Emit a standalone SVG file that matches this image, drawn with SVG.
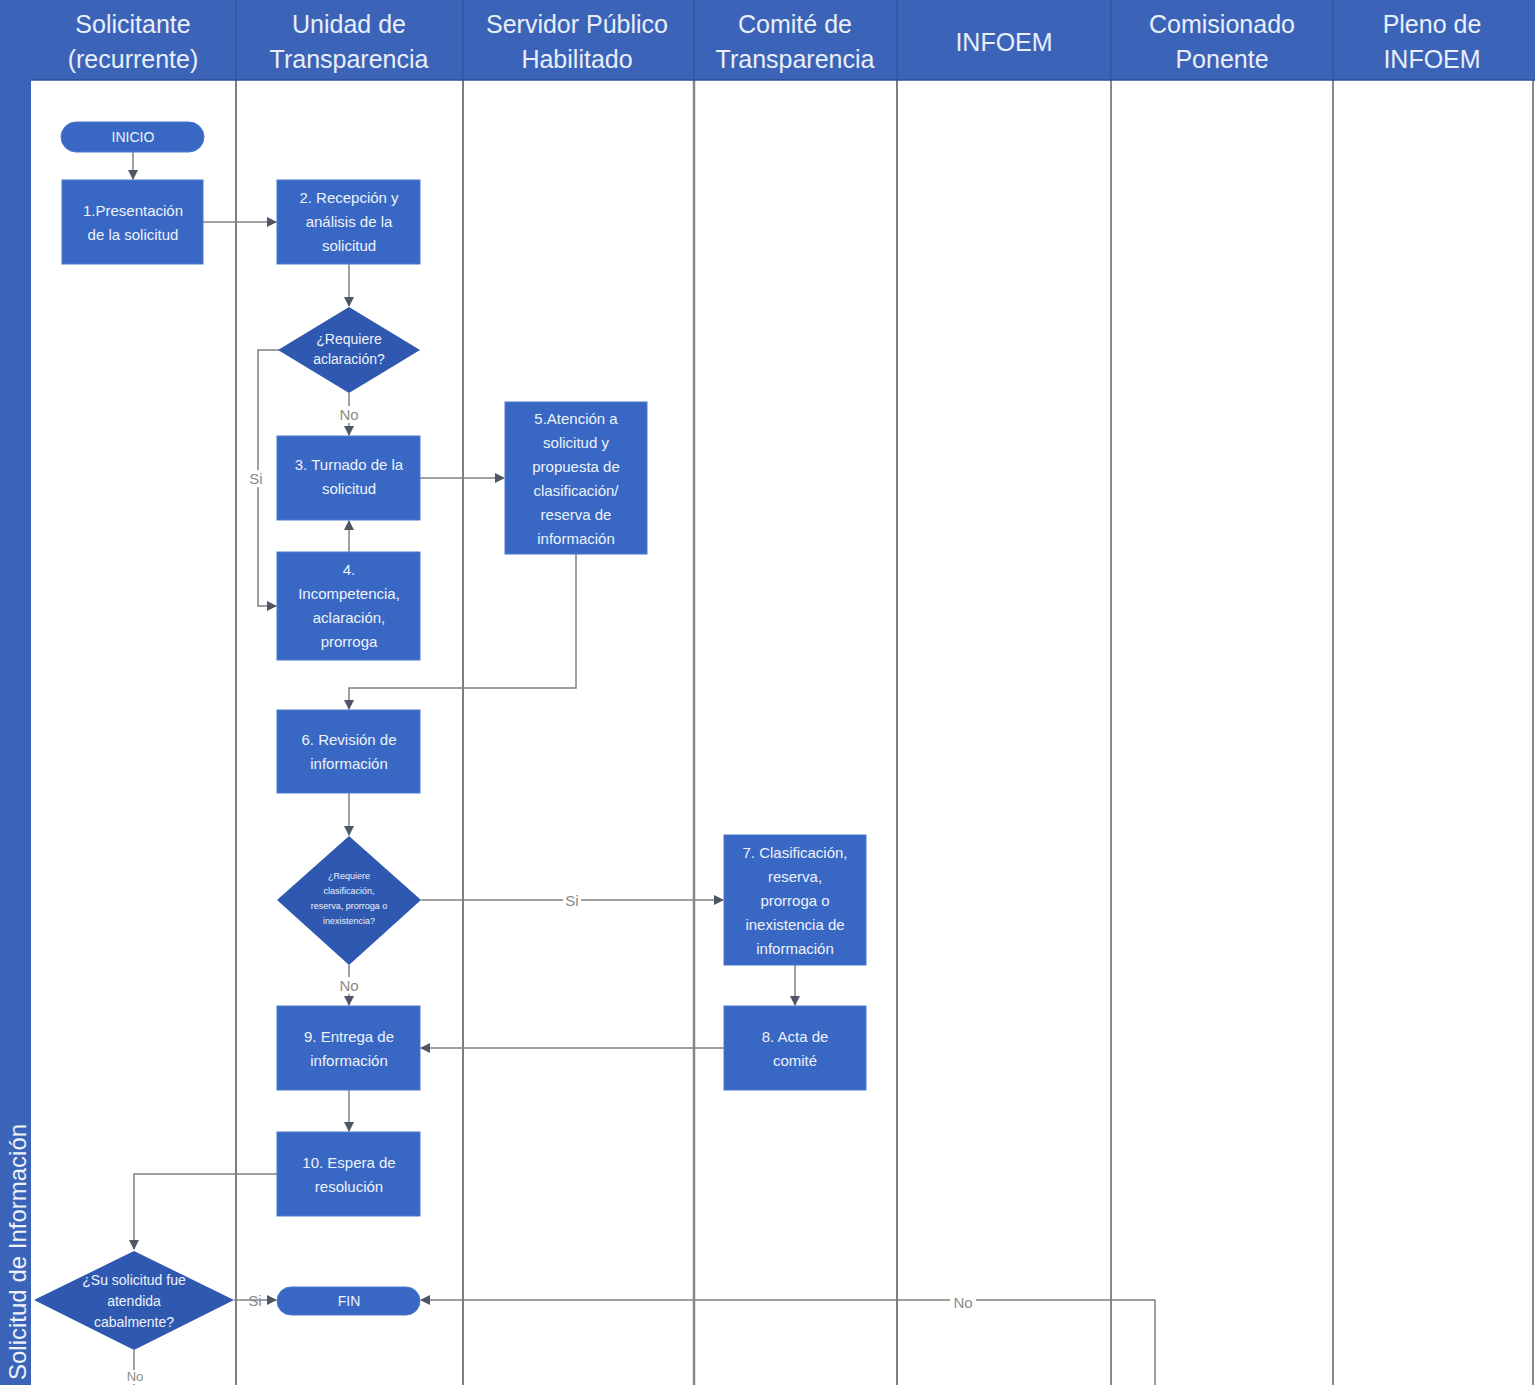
<svg xmlns="http://www.w3.org/2000/svg" width="1535" height="1385" viewBox="0 0 1535 1385">
<style>
.hdr{fill:#3b64b8}
.hl{font-family:"Liberation Sans",Arial,sans-serif;font-size:25px;fill:#e9eef8;text-anchor:middle}
.box{fill:#3868c4;stroke:#4a78cc;stroke-width:1}
.dia{fill:#2f58b0}
.nt{font-family:"Liberation Sans",Arial,sans-serif;font-size:15px;fill:#eef2fa;text-anchor:middle}
.st{font-family:"Liberation Sans",Arial,sans-serif;font-size:9px;fill:#eef2fa;text-anchor:middle}
.lane{stroke:#555;stroke-width:1.5}
.lane2{stroke:#888;stroke-width:2.5}
.c{fill:none;stroke:#808080;stroke-width:1.5}
.lb{font-family:"Liberation Sans",Arial,sans-serif;font-size:15px;fill:#8a8a8a;text-anchor:middle}
</style>
<defs>
<marker id="ar" viewBox="0 0 10 10" refX="9" refY="5" markerWidth="10" markerHeight="10" orient="auto" markerUnits="userSpaceOnUse">
<path d="M0,0 L10,5 L0,10 z" fill="#4f5666"/>
</marker>
</defs>
<rect x="0" y="0" width="1535" height="1385" fill="#ffffff"/>
<g id="pool">
<rect class="hdr" x="0" y="0" width="1535" height="80"/>
<rect class="hdr" x="0" y="0" width="31" height="1385"/>
<text font-family="Liberation Sans,Arial,sans-serif" font-size="24" fill="#eef2fa" transform="translate(26,1380) rotate(-90)">Solicitud de Información</text>
</g>
<g id="lanes">
<line class="lane" x1="236" y1="80" x2="236" y2="1385"/>
<line class="lane" x1="463" y1="80" x2="463" y2="1385" stroke="#222"/>
<line class="lane2" x1="694" y1="80" x2="694" y2="1385"/>
<line class="lane" x1="897" y1="80" x2="897" y2="1385"/>
<line class="lane2" x1="1111" y1="80" x2="1111" y2="1385" style="stroke-width:2"/>
<line class="lane2" x1="1333" y1="80" x2="1333" y2="1385" style="stroke-width:2"/>
<line class="lane2" x1="1533" y1="80" x2="1533" y2="1385" style="stroke-width:2"/>
<line x1="236" y1="0" x2="236" y2="80" stroke="#2d4f96" stroke-width="1"/>
<line x1="463" y1="0" x2="463" y2="80" stroke="#2d4f96" stroke-width="1"/>
<line x1="694" y1="0" x2="694" y2="80" stroke="#2d4f96" stroke-width="1"/>
<line x1="897" y1="0" x2="897" y2="80" stroke="#2d4f96" stroke-width="1"/>
<line x1="1111" y1="0" x2="1111" y2="80" stroke="#2d4f96" stroke-width="1"/>
<line x1="1333" y1="0" x2="1333" y2="80" stroke="#2d4f96" stroke-width="1"/>
<line x1="31" y1="80" x2="1535" y2="80" stroke="#2d4f96" stroke-width="1.5"/>
<text class="hl" x="133" y="33">Solicitante</text>
<text class="hl" x="133" y="68">(recurrente)</text>
<text class="hl" x="349" y="33">Unidad de</text>
<text class="hl" x="349" y="68">Transparencia</text>
<text class="hl" x="577" y="33">Servidor Público</text>
<text class="hl" x="577" y="68">Habilitado</text>
<text class="hl" x="795" y="33">Comité de</text>
<text class="hl" x="795" y="68">Transparencia</text>
<text class="hl" x="1004" y="51">INFOEM</text>
<text class="hl" x="1222" y="33">Comisionado</text>
<text class="hl" x="1222" y="68">Ponente</text>
<text class="hl" x="1432" y="33">Pleno de</text>
<text class="hl" x="1432" y="68">INFOEM</text>
</g>
<g id="connectors">
<line class="c" x1="133" y1="152" x2="133" y2="179" marker-end="url(#ar)"/>
<line class="c" x1="203" y1="222" x2="276" y2="222" marker-end="url(#ar)"/>
<line class="c" x1="349" y1="264" x2="349" y2="306" marker-end="url(#ar)"/>
<line class="c" x1="349" y1="393" x2="349" y2="435" marker-end="url(#ar)"/>
<polyline class="c" points="280,350 258,350 258,606 276,606" marker-end="url(#ar)"/>
<line class="c" x1="349" y1="552" x2="349" y2="521" marker-end="url(#ar)"/>
<line class="c" x1="420" y1="478" x2="504" y2="478" marker-end="url(#ar)"/>
<polyline class="c" points="576,554 576,688 349,688 349,709" marker-end="url(#ar)"/>
<line class="c" x1="349" y1="793" x2="349" y2="835" marker-end="url(#ar)"/>
<line class="c" x1="421" y1="900" x2="723" y2="900" marker-end="url(#ar)"/>
<line class="c" x1="349" y1="965" x2="349" y2="1005" marker-end="url(#ar)"/>
<line class="c" x1="795" y1="965" x2="795" y2="1005" marker-end="url(#ar)"/>
<line class="c" x1="724" y1="1048" x2="421" y2="1048" marker-end="url(#ar)"/>
<line class="c" x1="349" y1="1090" x2="349" y2="1131" marker-end="url(#ar)"/>
<polyline class="c" points="277,1174 134,1174 134,1249" marker-end="url(#ar)"/>
<line class="c" x1="234" y1="1300" x2="276" y2="1300" marker-end="url(#ar)"/>
<polyline class="c" points="1155,1385 1155,1300 421,1300" marker-end="url(#ar)"/>
<line class="c" x1="134" y1="1350" x2="134" y2="1385"/>
<rect x="338" y="406" width="22" height="17" fill="#fff"/>
<text class="lb" x="349" y="420">No</text>
<rect x="248" y="470" width="16" height="17" fill="#fff"/>
<text class="lb" x="256" y="484">Si</text>
<rect x="563" y="892" width="18" height="17" fill="#fff"/>
<text class="lb" x="572" y="906">Si</text>
<rect x="338" y="977" width="22" height="17" fill="#fff"/>
<text class="lb" x="349" y="991">No</text>
<text class="lb" x="255" y="1306">Si</text>
<rect x="950" y="1294" width="26" height="16" fill="#fff"/>
<text class="lb" x="963" y="1308">No</text>
<rect x="124" y="1370" width="22" height="14" fill="#fff"/>
<text class="lb" x="135" y="1381" style="font-size:13px">No</text>
</g>
<g id="n-inicio">
<rect class="box" x="61" y="122" width="143" height="30" rx="15"/>
<text class="nt" x="133" y="142" style="font-size:14px">INICIO</text>
</g>
<g id="n1">
<rect class="box" x="62" y="180" width="141" height="84"/>
<text class="nt" x="133" y="216">1.Presentación</text>
<text class="nt" x="133" y="240">de la solicitud</text>
</g>
<g id="n2">
<rect class="box" x="277" y="180" width="143" height="84"/>
<text class="nt" x="349" y="203">2. Recepción y</text>
<text class="nt" x="349" y="227">análisis de la</text>
<text class="nt" x="349" y="251">solicitud</text>
</g>
<g id="d1">
<polygon class="dia" points="349,307 420,350 349,393 278,350"/>
<text class="nt" x="349" y="344" style="font-size:14px">¿Requiere</text>
<text class="nt" x="349" y="364" style="font-size:14px">aclaración?</text>
</g>
<g id="n3">
<rect class="box" x="277" y="436" width="143" height="84"/>
<text class="nt" x="349" y="470">3. Turnado de la</text>
<text class="nt" x="349" y="494">solicitud</text>
</g>
<g id="n4">
<rect class="box" x="277" y="552" width="143" height="108"/>
<text class="nt" x="349" y="575">4.</text>
<text class="nt" x="349" y="599">Incompetencia,</text>
<text class="nt" x="349" y="623">aclaración,</text>
<text class="nt" x="349" y="647">prorroga</text>
</g>
<g id="n5">
<rect class="box" x="505" y="402" width="142" height="152"/>
<text class="nt" x="576" y="424">5.Atención a</text>
<text class="nt" x="576" y="448">solicitud y</text>
<text class="nt" x="576" y="472">propuesta de</text>
<text class="nt" x="576" y="496">clasificación/</text>
<text class="nt" x="576" y="520">reserva de</text>
<text class="nt" x="576" y="544">información</text>
</g>
<g id="n6">
<rect class="box" x="277" y="710" width="143" height="83"/>
<text class="nt" x="349" y="745">6. Revisión de</text>
<text class="nt" x="349" y="769">información</text>
</g>
<g id="d2">
<polygon class="dia" points="349,836 421,900 349,965 277,900"/>
<text class="st" x="349" y="879">¿Requiere</text>
<text class="st" x="349" y="894">clasificación,</text>
<text class="st" x="349" y="909">reserva, prorroga o</text>
<text class="st" x="349" y="924">inexistencia?</text>
</g>
<g id="n7">
<rect class="box" x="724" y="835" width="142" height="130"/>
<text class="nt" x="795" y="858">7. Clasificación,</text>
<text class="nt" x="795" y="882">reserva,</text>
<text class="nt" x="795" y="906">prorroga o</text>
<text class="nt" x="795" y="930">inexistencia de</text>
<text class="nt" x="795" y="954">información</text>
</g>
<g id="n8">
<rect class="box" x="724" y="1006" width="142" height="84"/>
<text class="nt" x="795" y="1042">8. Acta de</text>
<text class="nt" x="795" y="1066">comité</text>
</g>
<g id="n9">
<rect class="box" x="277" y="1006" width="143" height="84"/>
<text class="nt" x="349" y="1042">9. Entrega de</text>
<text class="nt" x="349" y="1066">información</text>
</g>
<g id="n10">
<rect class="box" x="277" y="1132" width="143" height="84"/>
<text class="nt" x="349" y="1168">10. Espera de</text>
<text class="nt" x="349" y="1192">resolución</text>
</g>
<g id="d3">
<polygon class="dia" points="134,1251 234,1300 134,1350 34,1300"/>
<text class="nt" x="134" y="1285" style="font-size:14px">¿Su solicitud fue</text>
<text class="nt" x="134" y="1306" style="font-size:14px">atendida</text>
<text class="nt" x="134" y="1327" style="font-size:14px">cabalmente?</text>
</g>
<g id="n-fin">
<rect class="box" x="277" y="1287" width="143" height="28" rx="14"/>
<text class="nt" x="349" y="1306" style="font-size:14px">FIN</text>
</g>
</svg>
